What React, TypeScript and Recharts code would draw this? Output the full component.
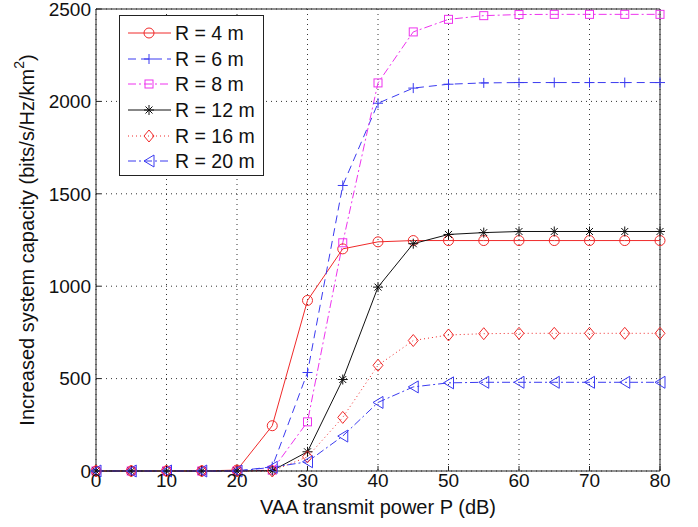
import React from 'react'
import { LineChart, Line, XAxis, YAxis, CartesianGrid, ReferenceLine } from 'recharts'

const power = [0, 5, 10, 15, 20, 25, 30, 35, 40, 45, 50, 55, 60, 65, 70, 75, 80]
const r4 = [0, 0, 0, 0, 5, 245, 923, 1202, 1240, 1247, 1247, 1247, 1247, 1247, 1247, 1247, 1247]
const r6 = [0, 0, 0, 0, 0, 23, 533, 1545, 1990, 2072, 2093, 2100, 2102, 2102, 2102, 2102, 2102]
const r8 = [0, 0, 0, 0, 0, 5, 266, 1235, 2100, 2376, 2444, 2464, 2470, 2471, 2471, 2471, 2471]
const r12 = [0, 0, 0, 0, 0, 2, 104, 495, 995, 1230, 1280, 1290, 1296, 1296, 1296, 1296, 1296]
const r16 = [0, 0, 0, 0, 0, 0, 77, 290, 572, 706, 736, 743, 745, 745, 745, 745, 745]
const r20 = [0, 0, 0, 0, 0, 20, 50, 189, 371, 455, 477, 480, 480, 480, 480, 480, 480]

const xTicks = [0, 10, 20, 30, 40, 50, 60, 70, 80]
const yTicks = [0, 500, 1000, 1500, 2000, 2500]

const data = power.map((p, i) => ({ p, r4: r4[i], r6: r6[i], r8: r8[i], r12: r12[i], r16: r16[i], r20: r20[i] }))

const RED = '#f02a2a'
const BLUE = '#3b3bf0'
const MAGENTA = '#ee33ee'
const BLACK = '#111'
const FONT = '"Liberation Sans", Arial, sans-serif'

if (typeof document !== 'undefined') document.body.style.margin = '0'

type Shape = 'circle' | 'plus' | 'square' | 'star' | 'diamond' | 'tri'

const Marker = ({ x, y, shape, color }: { x: number; y: number; shape: Shape; color: string }) => {
  const s = 5
  switch (shape) {
    case 'circle':
      return <circle cx={x} cy={y} r={s} fill="none" stroke={color} strokeWidth={1} />
    case 'plus':
      return <path d={`M${x - s},${y}H${x + s}M${x},${y - s}V${y + s}`} stroke={color} strokeWidth={1} />
    case 'square':
      return <rect x={x - 4} y={y - 4} width={8} height={8} fill="none" stroke={color} strokeWidth={1} />
    case 'star':
      return (
        <path
          d={`M${x - s},${y}H${x + s}M${x},${y - s}V${y + s}M${x - 3.5},${y - 3.5}L${x + 3.5},${y + 3.5}M${x - 3.5},${y + 3.5}L${x + 3.5},${y - 3.5}`}
          stroke={color}
          strokeWidth={1}
        />
      )
    case 'diamond':
      return <path d={`M${x},${y - 6}L${x + 5},${y}L${x},${y + 6}L${x - 5},${y}Z`} fill="none" stroke={color} strokeWidth={1} />
    default:
      return <path d={`M${x - 5},${y}L${x + 5},${y - 6}L${x + 5},${y + 6}Z`} fill="none" stroke={color} strokeWidth={1} />
  }
}

const series = [
  { key: 'r4', name: 'R = 4 m', color: RED, dash: undefined, shape: 'circle' as Shape },
  { key: 'r6', name: 'R = 6 m', color: BLUE, dash: '8 5', shape: 'plus' as Shape },
  { key: 'r8', name: 'R = 8 m', color: MAGENTA, dash: '8 3 2 3', shape: 'square' as Shape },
  { key: 'r12', name: 'R = 12 m', color: BLACK, dash: undefined, shape: 'star' as Shape },
  { key: 'r16', name: 'R = 16 m', color: RED, dash: '1 3', shape: 'diamond' as Shape },
  { key: 'r20', name: 'R = 20 m', color: BLUE, dash: '8 3 2 3', shape: 'tri' as Shape },
]

const LegendBox = () => (
  <div
    style={{
      position: 'absolute', left: 119, top: 15, width: 145, height: 161,
      border: '1px solid #222', background: '#fff', boxSizing: 'border-box', paddingTop: 4,
    }}
  >
    {series.map(s => (
      <div key={s.key} style={{ display: 'flex', alignItems: 'center', height: 25.7 }}>
        <svg width={54} height={20} style={{ marginLeft: 1, flex: 'none' }}>
          <line x1={7} y1={10} x2={50} y2={10} stroke={s.color} strokeDasharray={s.dash} strokeWidth={1} />
          <Marker x={28} y={10} shape={s.shape} color={s.color} />
        </svg>
        <span style={{ fontFamily: FONT, fontSize: 19.5, color: '#111', whiteSpace: 'nowrap', lineHeight: '20px' }}>{s.name}</span>
      </div>
    ))}
  </div>
)

export default function App() {
  return (
    <div style={{ position: 'relative', width: 698, height: 527, background: '#fff' }}>
      <LineChart width={698} height={527} data={data} margin={{ top: 9, right: 38, left: 0, bottom: 0 }}>
        <CartesianGrid stroke="#333" strokeDasharray="1 4" vertical horizontal />
        <ReferenceLine y={2500} stroke="#222" strokeWidth={1} />
        <ReferenceLine x={80} stroke="#222" strokeWidth={1} />
        <XAxis
          dataKey="p"
          type="number"
          domain={[0, 80]}
          ticks={xTicks}
          interval={0}
          height={56}
          stroke="#222"
          tickSize={-5}
          tickMargin={8}
          tick={{ fill: '#111', fontSize: 19, fontFamily: FONT }}
          label={({ viewBox }: any) => (
            <text x={viewBox.x + viewBox.width / 2} y={507} textAnchor="middle" dominantBaseline="central" fill="#111" fontSize={20} fontFamily={FONT}>
              VAA transmit power P (dB)
            </text>
          )}
        />
        <YAxis
          type="number"
          domain={[0, 2500]}
          ticks={yTicks}
          interval={0}
          width={96}
          stroke="#222"
          tickSize={-5}
          tickMargin={10}
          tick={{ fill: '#111', fontSize: 19, fontFamily: FONT }}
          label={({ viewBox }: any) => {
            const cx = 27
            const cy = viewBox.y + viewBox.height / 2
            return (
              <text x={cx} y={cy} transform={`rotate(-90 ${cx} ${cy})`} textAnchor="middle" dominantBaseline="central" fill="#111" fontSize={20} fontFamily={FONT}>
                Increased system capacity (bits/s/Hz/km
                <tspan dy={-8} fontSize={14}>2</tspan>
                <tspan dy={8}>)</tspan>
              </text>
            )
          }}
        />
        {series.map(s => (
          <Line
            key={s.key}
            dataKey={s.key}
            name={s.name}
            stroke={s.color}
            strokeWidth={1}
            strokeDasharray={s.dash}
            isAnimationActive={false}
            activeDot={false}
            dot={(props: any) => (
              <Marker key={`${s.key}-${props.index}`} x={props.cx} y={props.cy} shape={s.shape} color={s.color} />
            )}
          />
        ))}
      </LineChart>
      <LegendBox />
    </div>
  )
}
